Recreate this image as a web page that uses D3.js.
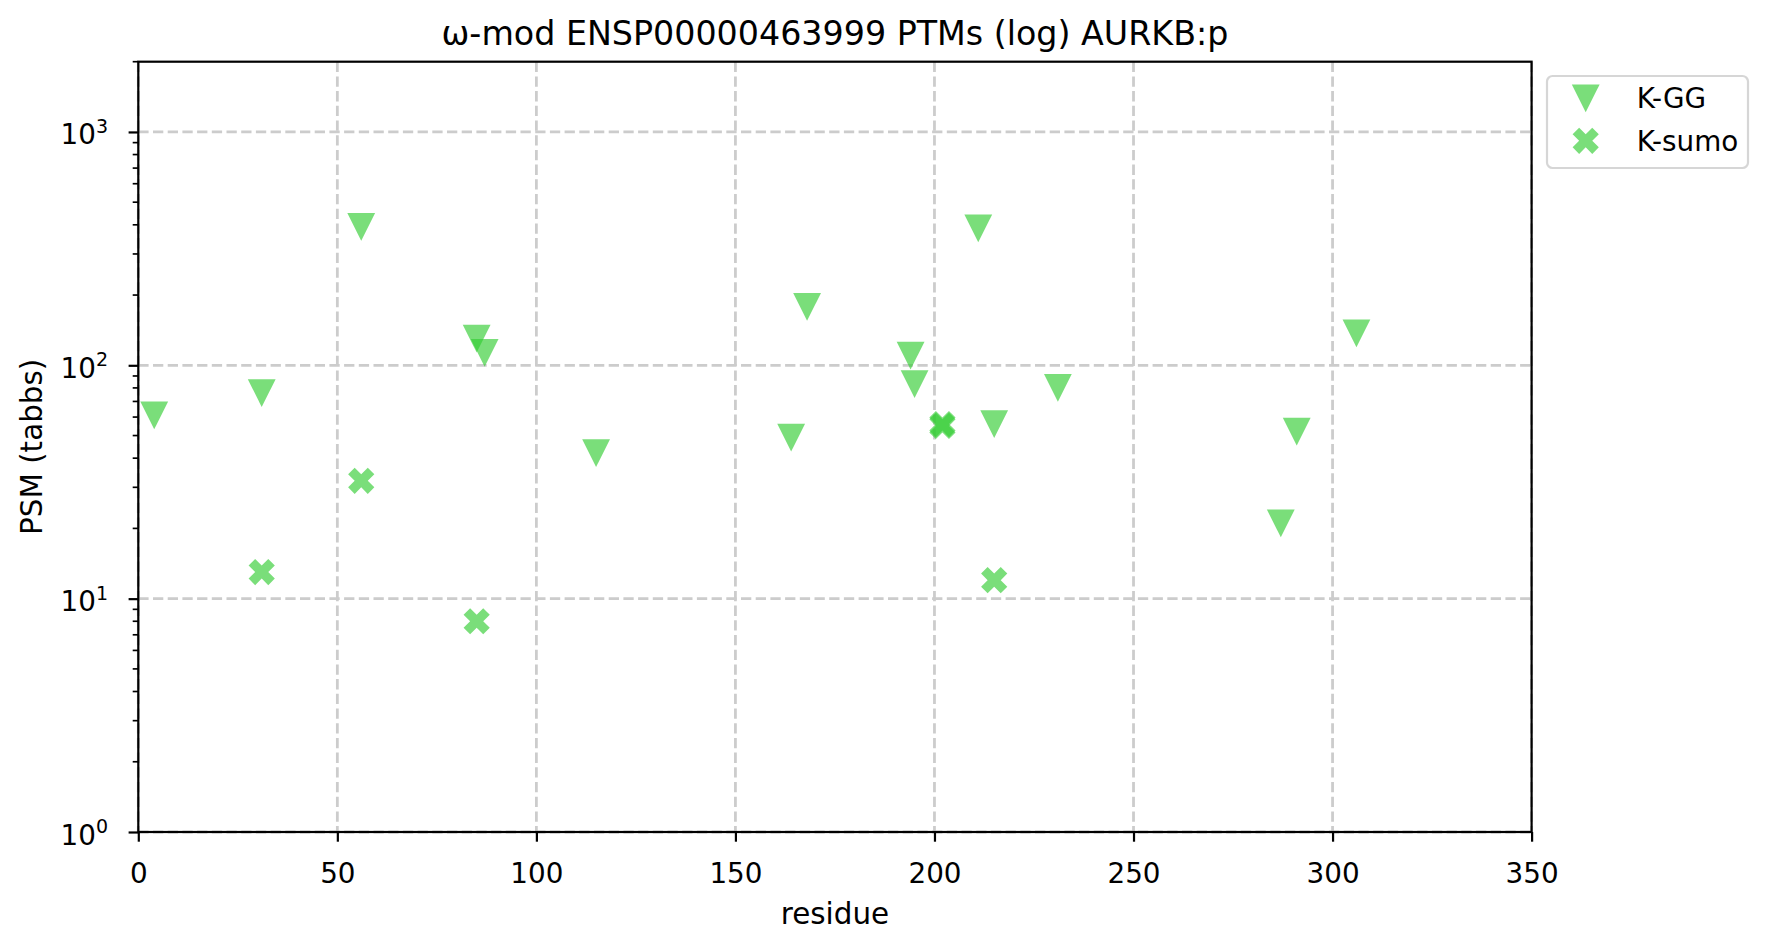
<!DOCTYPE html>
<html>
<head>
<meta charset="utf-8">
<script src="https://cdn.jsdelivr.net/npm/d3@7"></script>
<style>
  html, body { margin: 0; padding: 0; background: #fff; }
  svg { display: block; font-family: "DejaVu Sans", sans-serif; }
</style>
</head>
<body>
<svg id="chart" width="1768" height="949"></svg>
<script>
// ---- data ----
const titleText = "ω-mod ENSP00000463999 PTMs (log) AURKB:p";
const xLabel = "residue";
const yLabel = "PSM (tabbs)";
const seriesNames = ["K-GG", "K-sumo"];
const kggResidues = [4, 31, 56, 85, 87, 115, 164, 168, 194, 195, 211, 215, 231, 287, 291, 306];
const kggValues   = [61, 76, 392, 130, 113, 42, 49, 178, 110, 83, 386, 56, 80, 21, 52, 137];
const ksumoResidues = [31, 56, 85, 202, 202, 215];
const ksumoValues   = [13, 32, 8, 56, 55, 12];
const xTicks = [0, 50, 100, 150, 200, 250, 300, 350];
const yMajorTicks = [1, 10, 100, 1000];
const yExponents = ["0", "1", "2", "3"];

// ---- layout ----
const svg = d3.select("#chart");
const L = 138.3, R = 1531.6, T = 61.7, B = 832;
const x = d3.scaleLinear().domain([0, 350]).range([L, R]);
const y = d3.scaleLog().domain([1, 2000]).range([B, T]);
const color = "#32cd32", alpha = 0.65;
const fs = 27.8;
const labelFs = 29.4;

// grid
const grid = svg.append("g").attr("stroke", "#cccccc").attr("stroke-width", 2.78)
  .attr("stroke-dasharray", "10.3,4.4");
grid.selectAll("line.gx").data(xTicks).join("line")
  .attr("x1", d => x(d)).attr("x2", d => x(d)).attr("y1", T).attr("y2", B);
grid.selectAll("line.gy").data(yMajorTicks).join("line")
  .attr("y1", d => y(d)).attr("y2", d => y(d)).attr("x1", L).attr("x2", R);

// markers
const triSize = 27.8;
const triPath = d3.path();
triPath.moveTo(-triSize/2, -triSize/2);
triPath.lineTo(triSize/2, -triSize/2);
triPath.lineTo(0, triSize/2);
triPath.closePath();
const tri = triPath.toString();

// filled X: plus rotated 45deg
function xPath(size) {
  const s = size / 6;
  const pts = [[-1,-3],[1,-3],[1,-1],[3,-1],[3,1],[1,1],[1,3],[-1,3],[-1,1],[-3,1],[-3,-1],[-1,-1]];
  const c = Math.SQRT1_2;
  return "M" + pts.map(([a,b]) => [(a - b) * c * s, (a + b) * c * s].map(v => v.toFixed(2)).join(",")).join("L") + "Z";
}
const xp = xPath(27.8);

const kgg = kggResidues.map((r, i) => ({r, v: kggValues[i]}));
const ksumo = ksumoResidues.map((r, i) => ({r, v: ksumoValues[i]}));

svg.append("g").selectAll("path").data(kgg).join("path")
  .attr("d", tri).attr("transform", d => `translate(${x(d.r)},${y(d.v)})`)
  .attr("fill", color).attr("fill-opacity", alpha);
svg.append("g").selectAll("path").data(ksumo).join("path")
  .attr("d", xp).attr("transform", d => `translate(${x(d.r)},${y(d.v)})`)
  .attr("fill", color).attr("fill-opacity", alpha);

// x axis
const xAxis = svg.append("g").attr("transform", `translate(0,${B})`)
  .call(d3.axisBottom(x).tickValues(xTicks).tickSize(9.7).tickFormat(d3.format("d")));
xAxis.select(".domain").remove();
xAxis.selectAll(".tick line").attr("stroke", "#000").attr("stroke-width", 2.2);
xAxis.selectAll(".tick text").attr("y", 51).attr("dy", 0)
  .attr("font-size", fs).attr("fill", "#000").attr("font-family", "DejaVu Sans");

// y axis major
const yAxis = svg.append("g").attr("transform", `translate(${L},0)`)
  .call(d3.axisLeft(y).tickValues(yMajorTicks).tickSize(9.7).tickFormat(() => ""));
yAxis.select(".domain").remove();
yAxis.selectAll(".tick line").attr("stroke", "#000").attr("stroke-width", 2.2);
yAxis.selectAll(".tick text").each(function(d, i) {
  const t = d3.select(this);
  t.text(null).attr("x", -30.3).attr("dy", 0).attr("y", 12)
    .attr("text-anchor", "end").attr("fill", "#000").attr("font-size", fs)
    .attr("font-family", "DejaVu Sans");
  t.append("tspan").text("10");
  t.append("tspan").text(yExponents[i]).attr("font-size", 19).attr("dy", -11.5);
});

// y minor ticks
const minor = [];
for (let e = 0; e < 4; e++) for (let m = 2; m <= 9; m++) { const v = m * Math.pow(10, e); if (v <= 2000) minor.push(v); }
svg.append("g").selectAll("line").data(minor).join("line")
  .attr("x1", L - 5.6).attr("x2", L).attr("y1", d => y(d)).attr("y2", d => y(d))
  .attr("stroke", "#000").attr("stroke-width", 1.67);

// spines
svg.append("rect").attr("x", L).attr("y", T).attr("width", R - L).attr("height", B - T)
  .attr("fill", "none").attr("stroke", "#000").attr("stroke-width", 2.2);

// labels
svg.append("text").attr("x", (L + R) / 2).attr("y", 45).attr("text-anchor", "middle")
  .attr("font-size", 33.3).attr("fill", "#000").text(titleText);
svg.append("text").attr("x", (L + R) / 2).attr("y", 924).attr("text-anchor", "middle")
  .attr("font-size", labelFs).attr("fill", "#000").text(xLabel);
svg.append("text").attr("transform", `translate(42,${(T + B) / 2}) rotate(-90)`)
  .attr("text-anchor", "middle").attr("font-size", labelFs).attr("fill", "#000").text(yLabel);

// legend
const lg = svg.append("g");
lg.append("rect").attr("x", 1547).attr("y", 76).attr("width", 201).attr("height", 92)
  .attr("rx", 5.6).attr("fill", "#fff").attr("fill-opacity", 0.8)
  .attr("stroke", "#d6d6d6").attr("stroke-width", 2.2);
const legendShapes = [tri, xp];
const legendY = [98.3, 140.8];
seriesNames.forEach((name, i) => {
  lg.append("path").attr("d", legendShapes[i]).attr("transform", `translate(1585.7,${legendY[i]})`)
    .attr("fill", color).attr("fill-opacity", alpha);
  lg.append("text").attr("x", 1636.7).attr("y", legendY[i] + 10).attr("font-size", fs)
    .attr("fill", "#000").text(name);
});
</script>
</body>
</html>
